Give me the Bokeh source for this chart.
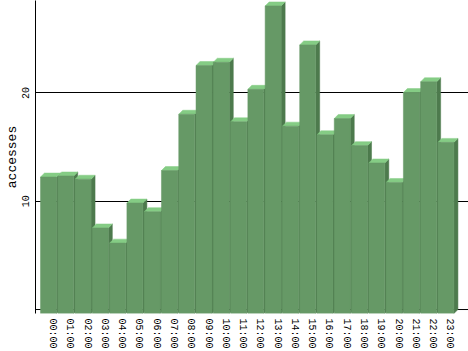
import math
from bokeh.plotting import figure
from bokeh.models import Range1d, FixedTicker, Span, ColumnDataSource
from bokeh.embed import file_html
from bokeh.resources import INLINE

# ---- data ----
hours = ["00:00", "01:00", "02:00", "03:00", "04:00", "05:00", "06:00", "07:00",
         "08:00", "09:00", "10:00", "11:00", "12:00", "13:00", "14:00", "15:00",
         "16:00", "17:00", "18:00", "19:00", "20:00", "21:00", "22:00", "23:00"]
accesses = [12.6, 12.7, 12.4, 7.9, 6.5, 10.2, 9.4, 13.2, 18.4, 22.9, 23.2, 17.7,
            20.7, 28.4, 17.3, 24.8, 16.5, 18.0, 15.5, 13.9, 12.1, 20.4, 21.4, 15.8]
y_ticks = [10, 20]
y_label = "accesses"

# ---- geometry (styles) ----
PX_X = 17.28          # pixels per category
PX_Y = 10.9           # pixels per access
DEPTH = 4.0           # 3d depth in pixels
FRAME_W, FRAME_H = 433, 315
DX = DEPTH / PX_X
DY = DEPTH / PX_Y
HALF = 0.463

x_start = -17.0 / PX_X
y_start = -DY

FRONT = "#669966"
TOP = "#85cc85"
SIDE = "#4d7a4d"
FONT = "Liberation Mono"

p = figure(width=468, height=351, output_backend="svg", toolbar_location=None,
           x_range=Range1d(x_start, x_start + FRAME_W / PX_X),
           y_range=Range1d(y_start, y_start + FRAME_H / PX_Y),
           min_border_left=35, min_border_right=0, min_border_top=0,
           min_border_bottom=36)
p.outline_line_color = None
p.background_fill_color = "white"
p.border_fill_color = "white"

# gridlines
p.xgrid.visible = False
p.ygrid.ticker = FixedTicker(ticks=y_ticks)
p.ygrid.grid_line_color = "black"
p.ygrid.grid_line_width = 1

# baseline at zero (behind bars)
p.add_layout(Span(location=0, dimension="width", line_color="black",
                  line_width=1, level="underlay"))

# 3d bars
xs_faces, ys_faces, col_faces = [], [], []
fl, fr, fb, ft = [], [], [], []
for i, v in enumerate(accesses):
    l = i - HALF - DX
    r = i + HALF - DX
    b = -DY
    t = v - DY
    xs_faces.append([r, r + DX, r + DX, r])
    ys_faces.append([b, b + DY, t + DY, t])
    col_faces.append(SIDE)
    xs_faces.append([l, l + DX, r + DX, r])
    ys_faces.append([t, t + DY, t + DY, t])
    col_faces.append(TOP)
    fl.append(l); fr.append(r); fb.append(b); ft.append(t)

p.patches(xs="xs", ys="ys", fill_color="c", line_color="c", line_width=0.5,
          source=ColumnDataSource(dict(xs=xs_faces, ys=ys_faces, c=col_faces)))
p.quad(left="l", right="r", bottom="b", top="t", fill_color=FRONT,
       line_color=FRONT, line_width=0.5,
       source=ColumnDataSource(dict(l=fl, r=fr, b=fb, t=ft)))

# axes
xa = p.xaxis[0]
xa.ticker = FixedTicker(ticks=list(range(len(hours))))
xa.major_label_overrides = {i: h for i, h in enumerate(hours)}
xa.major_label_orientation = "vertical"
xa.major_label_text_font = FONT
xa.major_label_text_font_size = "10px"
xa.major_label_text_color = "black"
xa.major_label_standoff = 5
xa.major_tick_out = 0
xa.major_tick_in = 0
xa.minor_tick_out = 0
xa.minor_tick_in = 0
xa.axis_line_color = None

ya = p.yaxis[0]
ya.ticker = FixedTicker(ticks=y_ticks)
ya.major_label_orientation = "vertical"
ya.major_label_text_font = FONT
ya.major_label_text_font_size = "10px"
ya.major_label_text_color = "black"
ya.major_label_standoff = 6
ya.major_tick_out = 0
ya.major_tick_in = 0
ya.minor_tick_out = 0
ya.minor_tick_in = 0
ya.axis_line_color = "black"
ya.axis_line_width = 1
ya.axis_label = y_label
ya.axis_label_standoff = 0
ya.axis_label_text_font = FONT
ya.axis_label_text_font_size = "13px"
ya.axis_label_text_font_style = "normal"
ya.axis_label_text_color = "black"

open("out.html", "w").write(file_html(p, INLINE))
